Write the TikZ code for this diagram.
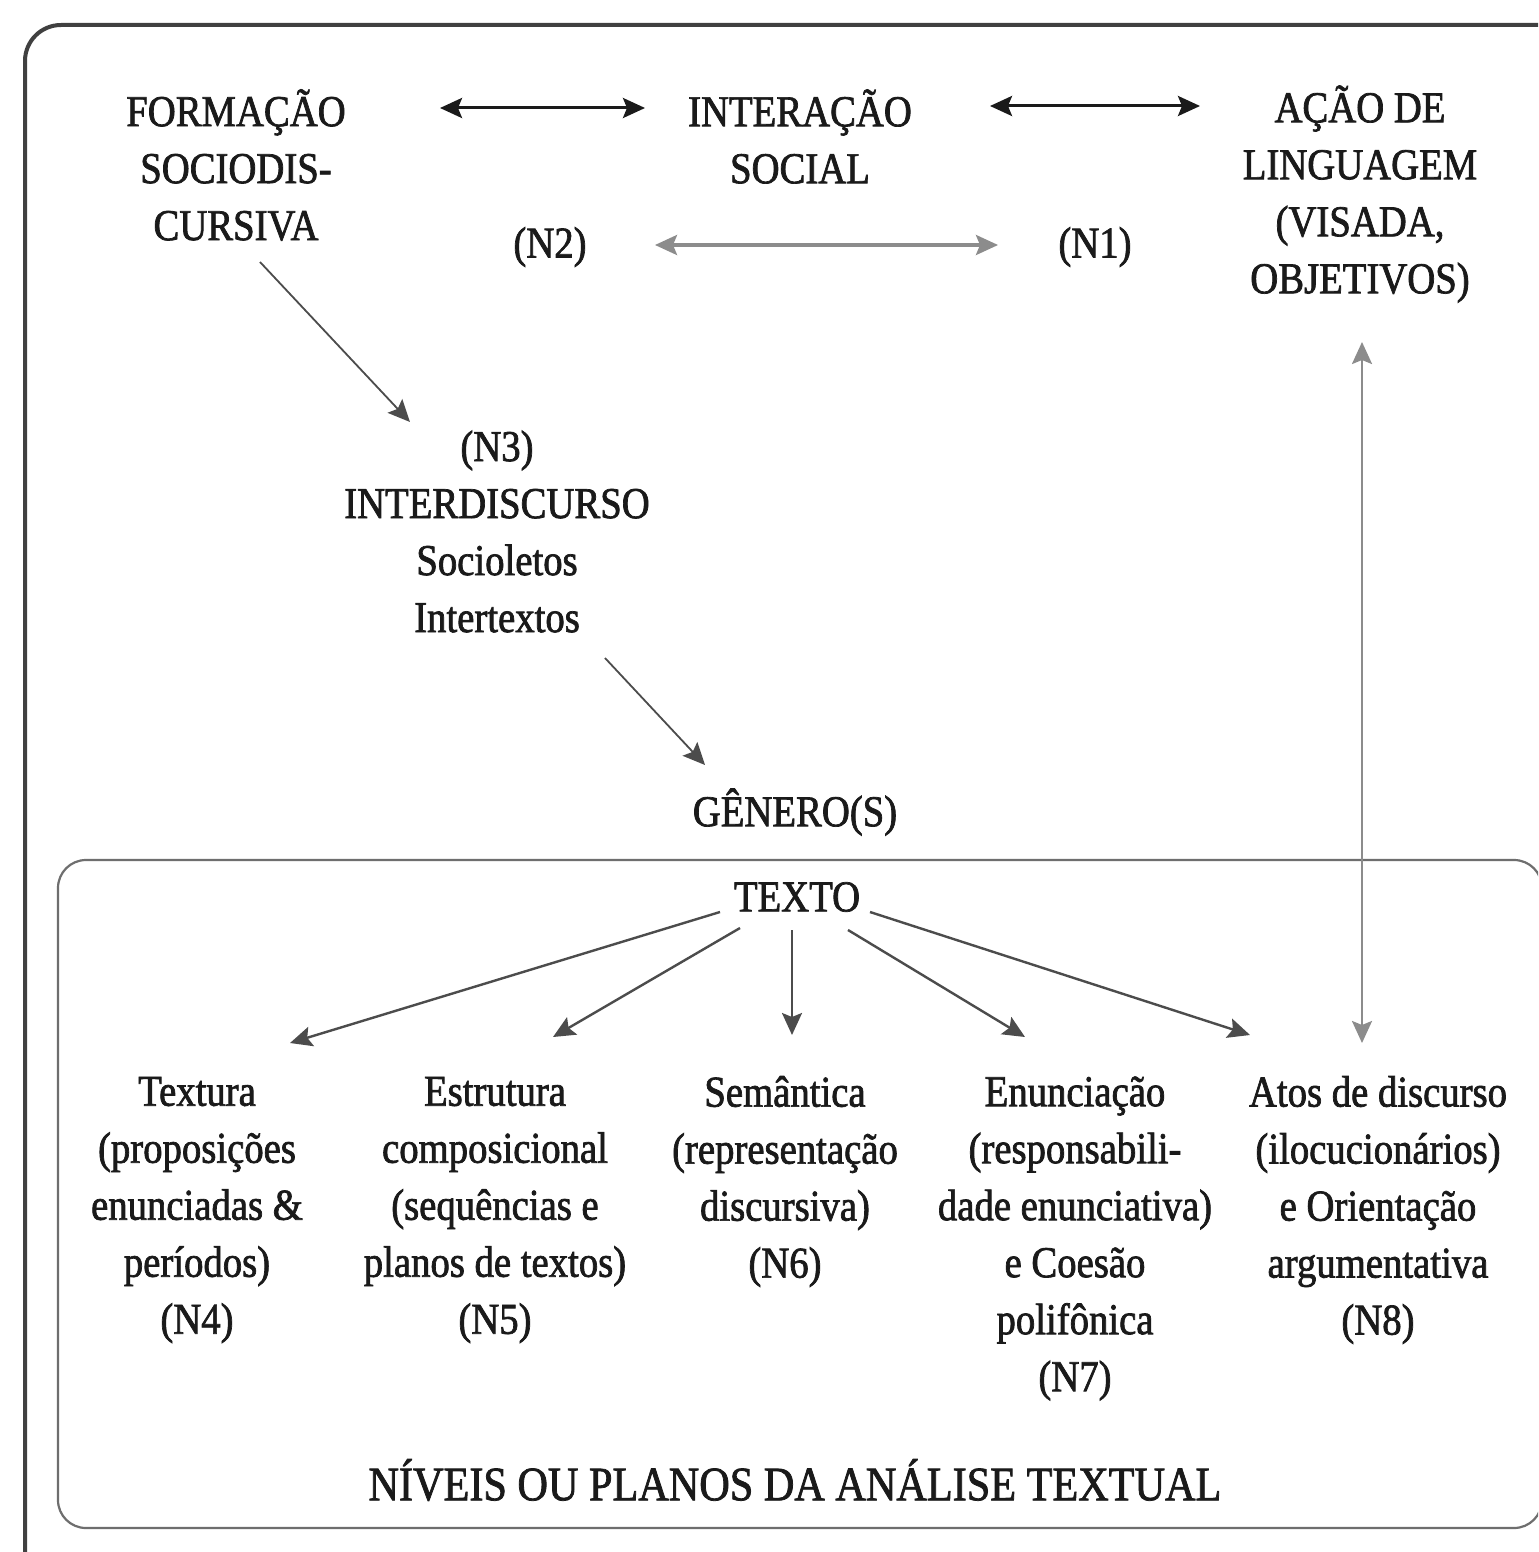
\documentclass[tikz,border=0pt]{standalone}
\usepackage{fontspec}
\setmainfont{Liberation Serif}[FakeStretch=0.88,FakeBold=1.6]
\usetikzlibrary{arrows.meta,calc}
\definecolor{ink}{HTML}{1A1A1A}
\definecolor{boxgray}{HTML}{6E6E6E}
\begin{document}
\begin{tikzpicture}[x=0.5pt,y=-0.5pt,
  txt/.style={align=center,inner sep=0pt,text=ink,font=\fontsize{22}{28.5}\selectfont},
  big/.style={inner sep=0pt,text=ink,font=\fontsize{24}{28}\selectfont},
  hd/.style={arrows={-Stealth[length=11pt,width=10pt,inset=2pt]}},
  dbl/.style={arrows={Stealth[length=11pt,width=10pt,inset=2pt]-Stealth[length=11pt,width=10pt,inset=2pt]}},
  blk/.style={draw=ink,line width=1.5pt},
  gry/.style={draw=black!45,line width=1.6pt},
  thin/.style={draw=black!70,line width=0.9pt},
  arrbox/.style={draw=boxgray,line width=1.1pt,rounded corners=14pt}]
\useasboundingbox (0,0) rectangle (1538,1552);
\fill[white] (0,0) rectangle (1538,1552);
\begin{scope}
\clip (0,0) rectangle (1538,1552);
% outer frame
\draw[draw=black!75,line width=2pt,rounded corners=18pt] (25,25) rectangle (1600,1600);
% inner frame
\draw[arrbox] (58,860) rectangle (1542,1528);
\end{scope}

% top row
\node[txt] (form) at (236,165) {FORMAÇÃO\\SOCIODIS-\\CURSIVA};
\node[txt] (inter) at (800,136.5) {INTERAÇÃO\\SOCIAL};
\node[txt] (acao) at (1360,194) {AÇÃO DE\\LINGUAGEM\\(VISADA,\\OBJETIVOS)};
\node[txt] (n2) at (550,247) {(N2)};
\node[txt] (n1) at (1095,247) {(N1)};

% middle
\node[txt] (n3) at (497,531.5) {(N3)\\INTERDISCURSO\\Socioletos\\Intertextos};
\node[txt] (gen) at (795,812) {GÊNERO(S)};
\node[txt] (texto) at (797,897) {TEXTO};

% bottom columns
\node[txt] (c1) at (197,1210) {Textura\\(proposições\\enunciadas \&\\períodos)\\(N4)};
\node[txt] (c2) at (495,1210) {Estrutura\\composicional\\(sequências e\\planos de textos)\\(N5)};
\node[txt] (c3) at (785,1181.5) {Semântica\\(representação\\discursiva)\\(N6)};
\node[txt] (c4) at (1075,1238.5) {Enunciação\\(responsabili-\\dade enunciativa)\\e Coesão\\polifônica\\(N7)};
\node[txt] (c5) at (1378,1210) {Atos de discurso\\(ilocucionários)\\e Orientação\\argumentativa\\(N8)};
\node[big] (foot) at (795,1480) {NÍVEIS OU PLANOS DA ANÁLISE TEXTUAL};

% connectors
\draw[blk,dbl] ($(form)+(204,-57)$) -- ($(inter)+(-155,-28.5)$);
\draw[blk,dbl] ($(inter)+(190,-30.5)$) -- ($(acao)+(-160,-88)$);
\draw[gry,dbl] ($(n2)+(105,-2)$) -- ($(n1)+(-97,-2)$);
\draw[gry,line width=1.2pt,dbl] ($(acao)+(2,148)$) -- ($(c5)+(-16,-167)$);
\draw[thin,hd] ($(form)+(24,97)$) -- ($(n3)+(-87,-109.5)$);
\draw[thin,hd] ($(n3)+(108,126.5)$) -- ($(gen)+(-90,-47)$);
\draw[thin,line width=1.2pt,hd] ($(texto)+(-77,15)$) -- ($(c1)+(93,-167)$);
\draw[thin,line width=1.2pt,hd] ($(texto)+(-57,31)$) -- ($(c2)+(58,-173)$);
\draw[thin,line width=1.2pt,hd] ($(texto)+(-5,33)$) -- ($(c3)+(7,-146.5)$);
\draw[thin,line width=1.2pt,hd] ($(texto)+(51,33)$) -- ($(c4)+(-50,-201.5)$);
\draw[thin,line width=1.2pt,hd] ($(texto)+(73,15)$) -- ($(c5)+(-128,-175)$);
\end{tikzpicture}
\end{document}
